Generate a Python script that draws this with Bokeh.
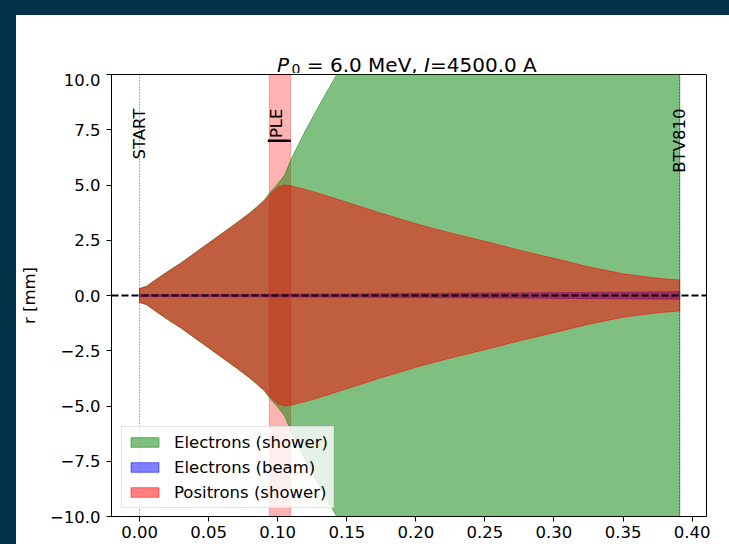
import math
from bokeh.plotting import figure
from bokeh.layouts import column
from bokeh.models import (Range1d, FixedTicker, CustomJSTickFormatter, Span, Label)
from bokeh.core.properties import value
from bokeh.embed import file_html
from bokeh.resources import INLINE

# ---------------- data ----------------
z_shower = [0.000, 0.005, 0.010, 0.020, 0.030, 0.040, 0.050, 0.060, 0.070, 0.080,
            0.090, 0.095, 0.100, 0.105, 0.110, 0.120, 0.130, 0.140, 0.150, 0.175,
            0.200, 0.225, 0.250, 0.275, 0.300, 0.325, 0.350, 0.375, 0.391]
r_electrons_shower = [0.32, 0.42, 0.65, 1.08, 1.48, 1.93, 2.38, 2.83, 3.28, 3.75,
                      4.30, 4.70, 5.05, 5.45, 6.20, 7.45, 8.60, 9.70, 10.8, 13.5,
                      16.2, 19.0, 21.7, 24.4, 27.1, 29.8, 32.5, 35.2, 37.0]
r_positrons_shower = [0.30, 0.40, 0.62, 1.05, 1.45, 1.90, 2.35, 2.80, 3.25, 3.72,
                      4.25, 4.62, 4.90, 5.00, 4.95, 4.80, 4.62, 4.42, 4.22, 3.72,
                      3.25, 2.83, 2.45, 2.05, 1.68, 1.30, 0.98, 0.78, 0.70]
z_beam = [0.000, 0.050, 0.100, 0.150, 0.200, 0.250, 0.300, 0.350, 0.391]
r_electrons_beam = [0.05, 0.05, 0.06, 0.07, 0.09, 0.11, 0.13, 0.15, 0.17]

marker_names = ["START", "BTV810"]
marker_z = [0.0, 0.391]
ple_name = "PLE"
ple_start = 0.0940
ple_end = 0.1093
ple_mark_r = 7.0

series_names = ["Electrons (shower)", "Electrons (beam)", "Positrons (shower)"]
series_colors = ["green", "blue", "red"]

x_ticks = [0.00, 0.05, 0.10, 0.15, 0.20, 0.25, 0.30, 0.35, 0.40]
y_ticks = [-10.0, -7.5, -5.0, -2.5, 0.0, 2.5, 5.0, 7.5, 10.0]

# title pieces: text, size, style
title_parts = ["P", "0", "= 6.0 MeV,", "I", "=4500.0 A"]
title_sizes = ["20px", "14px", "20px", "20px", "20px"]
title_styles = ["italic", "normal", "normal", "italic", "normal"]

FONT = "DejaVu Sans"
TICK_FS = "16.5px"
BG_DARK = "#043248"

# ---------------- title strip ----------------
TW, TH = 713, 58
t = figure(width=TW, height=TH, output_backend="svg", toolbar_location=None,
           x_range=Range1d(95, 690), y_range=Range1d(0, TH),
           x_axis_type=None, y_axis_type=None,
           min_border_left=95, min_border_right=23, min_border_top=0,
           min_border_bottom=0)
t.outline_line_color = None
t.background_fill_color = "white"
t.border_fill_color = "white"
t.xgrid.visible = False
t.ygrid.visible = False
title_x = [260.5, 275.0, 290.3, 407.6, 413.5]
title_y = [8.3, 5.0, 8.3, 8.3, 8.3]
for txt, fs, st, tx, ty in zip(title_parts, title_sizes, title_styles, title_x, title_y):
    t.text(x=[tx], y=[ty], text=[txt], text_font=value(FONT), text_font_size=fs,
           text_font_style=st, text_align="left", text_baseline="alphabetic",
           text_color="black")

# ---------------- main figure ----------------
x0, x1 = -0.0203, 0.4104
p = figure(width=713, height=471, output_backend="svg", toolbar_location=None,
           x_range=Range1d(x0, x1), y_range=Range1d(-10, 10),
           min_border_left=95, min_border_right=23, min_border_top=1,
           min_border_bottom=28)
p.background_fill_color = "white"
p.border_fill_color = "white"
p.outline_line_color = "black"
p.outline_line_width = 1
p.xgrid.visible = False
p.ygrid.visible = False

for ax in (p.xaxis[0], p.yaxis[0]):
    ax.axis_line_color = "black"
    ax.major_tick_line_color = "black"
    ax.major_tick_out = 5
    ax.major_tick_in = 0
    ax.minor_tick_line_color = None
    ax.major_label_text_font = FONT
    ax.major_label_text_font_size = TICK_FS
    ax.major_label_text_color = "black"

p.xaxis.ticker = FixedTicker(ticks=x_ticks)
p.yaxis.ticker = FixedTicker(ticks=y_ticks)
p.xaxis.formatter = CustomJSTickFormatter(
    code="return (tick < 0 ? '\u2212' : '') + Math.abs(tick).toFixed(2);")
p.yaxis.formatter = CustomJSTickFormatter(
    code="return (tick < 0 ? '\u2212' : '') + Math.abs(tick).toFixed(1);")
p.xaxis.major_label_standoff = 4
p.yaxis.major_label_standoff = 6
p.yaxis.axis_label = "r [mm]"
p.yaxis.axis_label_text_font = FONT
p.yaxis.axis_label_text_font_size = TICK_FS
p.yaxis.axis_label_text_font_style = "normal"
p.yaxis.axis_label_text_color = "black"
p.yaxis.axis_label_standoff = 8

# ---------------- annotations (under legend) ----------------
for zname, zpos in zip(marker_names, marker_z):
    p.add_layout(Span(location=zpos, dimension="height", line_color="black",
                      line_alpha=0.8, line_width=0.8, line_dash="1 2"))
p.add_layout(Span(location=0, dimension="width", line_color="black",
                  line_width=2, line_dash="7 3"))

label_top = 8.46
for zname, zpos in zip(marker_names, marker_z):
    p.add_layout(Label(x=zpos, y=label_top, text=zname, angle=math.pi / 2,
                       text_align="right", text_baseline="middle",
                       text_font=FONT, text_font_size=TICK_FS, text_color="black"))
ple_mid = 0.5 * (ple_start + ple_end)
p.add_layout(Label(x=ple_mid, y=label_top, text=ple_name, angle=math.pi / 2,
                   text_align="right", text_baseline="middle", x_offset=-3,
                   text_font=FONT, text_font_size=TICK_FS, text_color="black"))

# ---------------- glyphs ----------------
# PLE element band (drawn beneath the envelopes)
p.quad(left=[ple_start], right=[ple_end], bottom=[-10], top=[10],
       fill_color="red", fill_alpha=0.3, line_color="red", line_alpha=0.3)

def band(z, r):
    return list(z) + list(z)[::-1], list(r) + [-v for v in r][::-1]

gx, gy = band(z_shower, r_electrons_shower)
p.patch(gx, gy, fill_color=series_colors[0], fill_alpha=0.5,
        line_color=series_colors[0], line_alpha=0.5, line_width=1,
        legend_label=series_names[0])
bx, by = band(z_beam, r_electrons_beam)
p.patch(bx, by, fill_color=series_colors[1], fill_alpha=0.5,
        line_color=series_colors[1], line_alpha=0.5, line_width=1,
        legend_label=series_names[1])
rx, ry = band(z_shower, r_positrons_shower)
p.patch(rx, ry, fill_color=series_colors[2], fill_alpha=0.5,
        line_color=series_colors[2], line_alpha=0.5, line_width=1,
        legend_label=series_names[2])

p.segment(x0=[ple_start - 0.0012], x1=[ple_end + 0.0002], y0=[ple_mark_r],
          y1=[ple_mark_r], line_color="black", line_width=2.5)

# ---------------- legend ----------------
lg = p.legend[0]
lg.location = (10, 8)
lg.margin = 0
lg.padding = 5
lg.spacing = 5
lg.glyph_width = 35
lg.glyph_height = 12
lg.label_height = 20
lg.label_standoff = 12
lg.label_text_font = FONT
lg.label_text_font_size = TICK_FS
lg.label_text_color = "black"
lg.background_fill_color = "white"
lg.background_fill_alpha = 0.8
lg.border_line_color = "#cccccc"
lg.border_line_width = 1

inner = column(t, p, spacing=0, margin=(15, 0, 0, 16),
               styles={"background-color": "white"})
layout = column(inner, styles={"background-color": BG_DARK})
open("out.html", "w").write(file_html(layout, INLINE))
